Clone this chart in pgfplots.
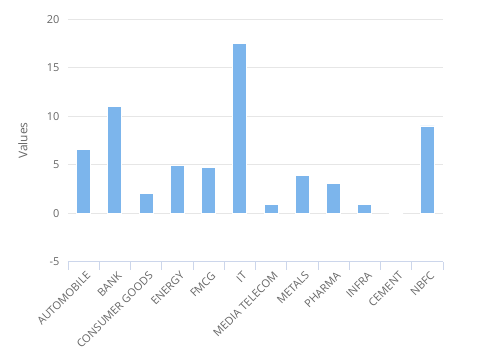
\documentclass[border=0pt]{standalone}
\usepackage{pgfplots}
\pgfplotsset{compat=1.18}
\usepackage{fontspec}
\setmainfont{Open Sans}
\definecolor{barblue}{HTML}{7CB5EC}
\definecolor{gridgray}{HTML}{E6E6E6}
\definecolor{axisblue}{HTML}{CCD6EB}
\definecolor{labgray}{HTML}{666666}
\begin{document}
\begin{tikzpicture}
\path[use as bounding box] (-68bp,-92.3bp) rectangle (416bp,261.7bp);
\begin{axis}[
  at={(0,0)}, anchor=south west,
  scale only axis, width=375bp, height=242.4bp,
  xmin=-0.5, xmax=11.5, ymin=-5, ymax=20,
  ytick={-5,0,5,10,15,20},
  xtick={0,...,11},
  xticklabels={AUTOMOBILE,BANK,CONSUMER GOODS,ENERGY,FMCG,IT,MEDIA TELECOM,METALS,PHARMA,INFRA,CEMENT,NBFC},
  extra x ticks={-0.5,0.5,...,11.5},
  extra x tick labels={},
  extra x tick style={major tick length=8bp, tick align=outside, grid=none, xtick style={draw=axisblue, line width=0.8pt}},
  xtick style={draw=none},
  ytick style={draw=none},
  ymajorgrids, grid style={gridgray, line width=0.8pt},
  axis x line*=bottom, axis y line*=left,
  x axis line style={draw=axisblue, line width=0.8pt},
  y axis line style={draw=none},
  xticklabel style={rotate=45, anchor=east, font=\fontsize{11}{13}\selectfont, text=labgray, inner sep=1pt, yshift=-12bp, xshift=-4bp},
  yticklabel style={font=\fontsize{11}{13}\selectfont, text=labgray, xshift=-5bp},
  /pgf/number format/assume math mode=true,
  ylabel={Values},
  every axis y label/.style={at={(-45bp,121.2bp)}, rotate=90, anchor=center, font=\fontsize{12}{14}\selectfont, text=labgray},
  clip=false,
]
\addplot[ybar, bar width=14bp, fill=barblue, draw=white, line width=0.8pt] coordinates {
(0,6.6) (1,11) (2,2) (3,4.9) (4,4.7) (5,17.5) (6,0.95) (7,3.9) (8,3.1) (9,0.95) (10,0) (11,9)
};
\end{axis}
\end{tikzpicture}
\end{document}
